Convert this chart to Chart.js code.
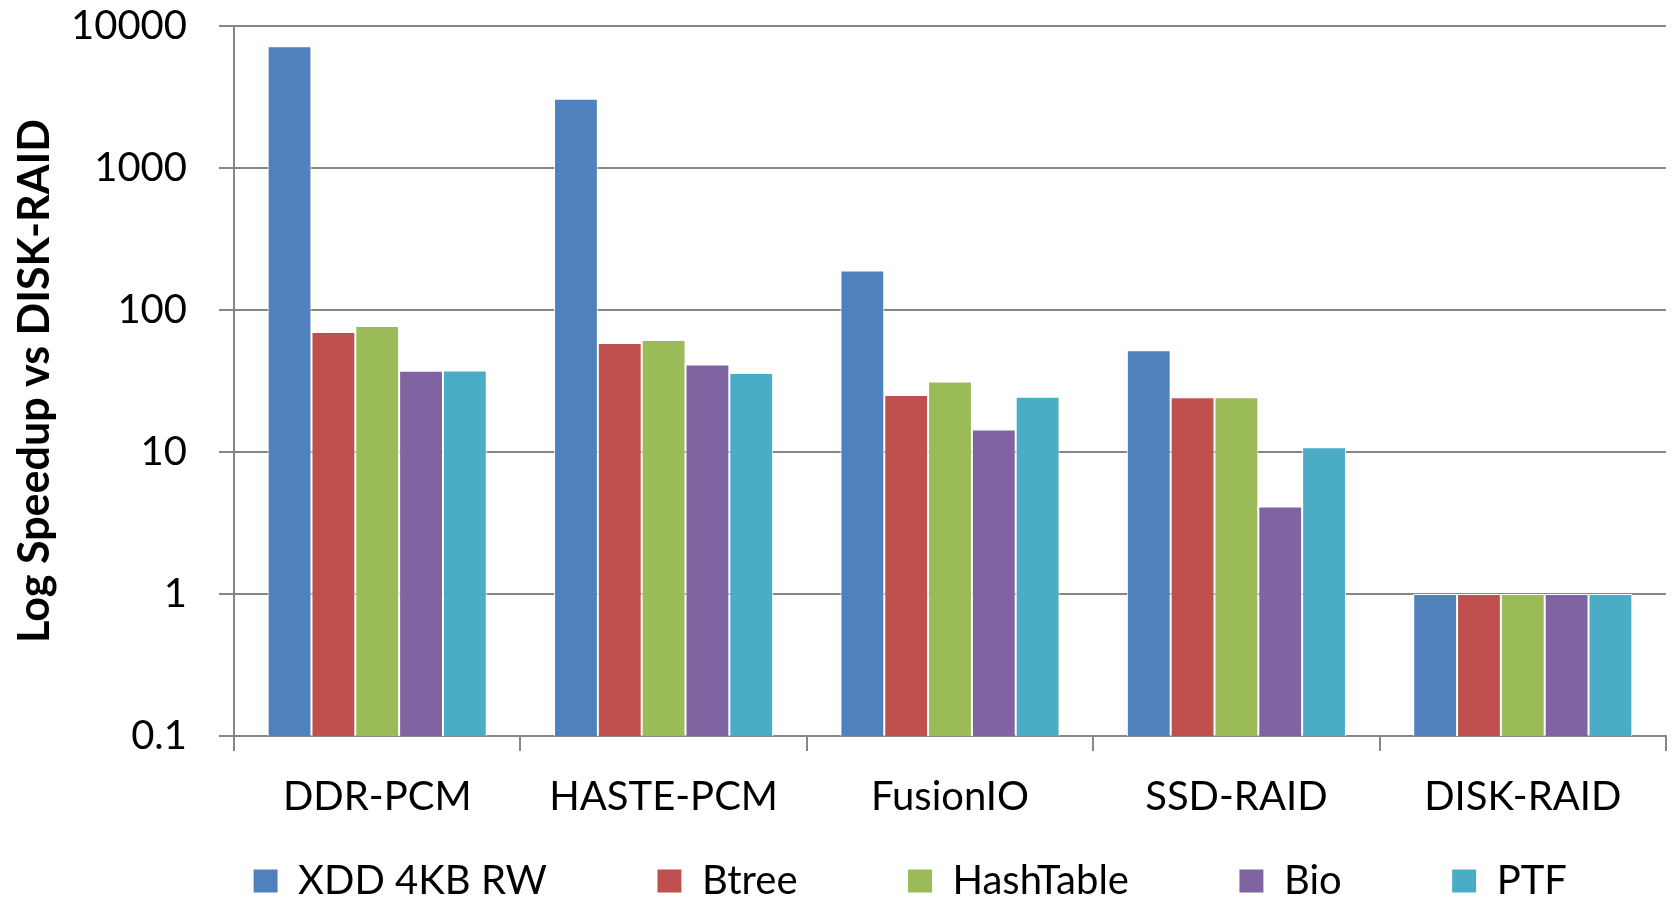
<!DOCTYPE html>
<html>
<head>
<meta charset="utf-8">
<script src="https://cdn.jsdelivr.net/npm/chart.js@4.4.0/dist/chart.umd.min.js"></script>
<style>
  html, body { margin: 0; padding: 0; background: #fff; }
  #caixa { width: 1675px; height: 901px; }
</style>
</head>
<body>
<div id="caixa"><canvas id="grafico"></canvas></div>
<script>
// DADOS
const categorias = ["DDR-PCM", "HASTE-PCM", "FusionIO", "SSD-RAID", "DISK-RAID"];
const nomesSeries = ["XDD 4KB RW", "Btree", "HashTable", "Bio", "PTF"];
const xdd = [7200, 3080, 190, 52, 1];
const btree = [70, 58.5, 25.2, 24.3, 1];
const hashTable = [77, 61.6, 31.4, 24.3, 1];
const bio = [37.3, 41.4, 14.4, 4.14, 1];
const ptf = [37.5, 36, 24.5, 10.8, 1];
const ticksY = [0.1, 1, 10, 100, 1000, 10000];
const rotulosY = ["0.1", "1", "10", "100", "1000", "10000"];

// CORES (paleta do Excel)
const cores = ["#4F81BD", "#C0504D", "#9BBB59", "#8064A2", "#4BACC6"];
const cinza = "#868686";
const fonte = "Lato";

const valores = [xdd, btree, hashTable, bio, ptf];

// legenda: espaço grande entre itens sem empurrar o eixo x
const ajusteLegenda = {
  id: "ajusteLegenda",
  beforeLayout(chart) {
    const lg = chart.legend;
    if (lg && !lg._fitOriginal) {
      lg._fitOriginal = lg.fit;
      lg.fit = function () {
        this._fitOriginal();
        this.height = 60;
      };
    }
  },
  afterLayout(chart) {
    const lg = chart.legend;
    const p = lg.options.labels.padding;
    lg.top = chart.height - 40 - p;
    lg.bottom = chart.height; // o clip da legenda usa top/bottom
    lg.left += 77;
    lg.right += 77;
  }
};

let ctx = document.getElementById("grafico").getContext("2d");

new Chart(ctx, {
  type: "bar",
  data: {
    labels: categorias,
    datasets: nomesSeries.map((nome, i) => ({
      label: nome,
      data: valores[i],
      backgroundColor: cores[i],
      borderColor: "#ffffff",
      borderWidth: 1,
      categoryPercentage: 0.765,
      barPercentage: 1
    }))
  },
  options: {
    responsive: true,
    maintainAspectRatio: false,
    animation: false,
    layout: { padding: { top: 0, right: 9, bottom: 0, left: 0 } },
    plugins: {
      legend: {
        position: "bottom",
        labels: {
          boxWidth: 25,
          boxHeight: 24,
          padding: 110,
          color: "#000",
          font: { family: fonte, size: 40 }
        }
      },
      tooltip: { enabled: false }
    },
    scales: {
      x: {
        offset: true,
        grid: {
          offset: true,
          drawOnChartArea: false,
          drawTicks: true,
          tickLength: 15,
          color: cinza,
          lineWidth: 2
        },
        border: { color: cinza, width: 2 },
        ticks: {
          color: "#000",
          padding: 22,
          maxRotation: 0,
          font: { family: fonte, size: 40 }
        },
        afterFit: s => { s.height = 105; }
      },
      y: {
        type: "logarithmic",
        min: 0.1,
        max: 10000,
        afterBuildTicks: s => { s.ticks = ticksY.map(v => ({ value: v })); },
        ticks: {
          color: "#000",
          padding: 32,
          font: { family: fonte, size: 40 },
          callback: (v, i) => rotulosY[i]
        },
        grid: { color: cinza, lineWidth: 2, tickLength: 15 },
        border: { color: cinza, width: 2 },
        title: {
          display: true,
          text: "Log Speedup vs DISK-RAID",
          color: "#000",
          padding: { top: 9, bottom: 0 },
          font: { family: fonte, size: 43, weight: "bold" }
        },
        afterFit: s => {
          s.width = 234;
          // o padding dos rótulos não deve empurrar a área do gráfico
          s.paddingTop = 26;
          s.paddingBottom = 24;
        }
      }
    }
  },
  plugins: [ajusteLegenda]
});
</script>
</body>
</html>
